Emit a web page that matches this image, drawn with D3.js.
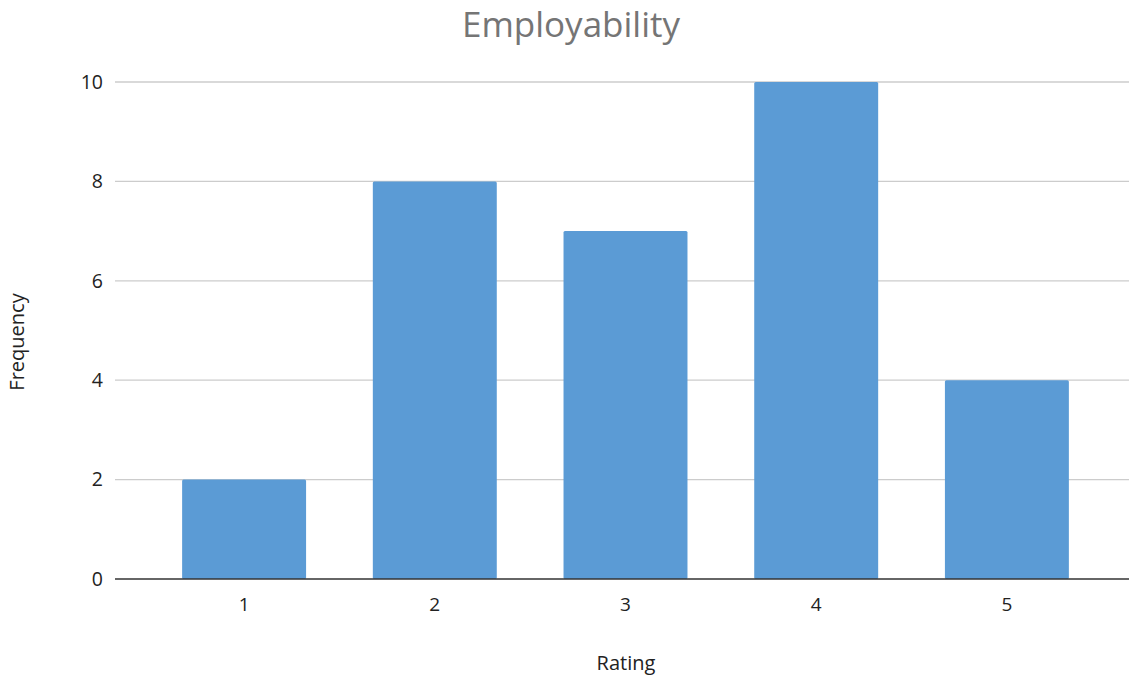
<!DOCTYPE html>
<html><head><meta charset="utf-8">
<script src="https://cdn.jsdelivr.net/npm/d3@7"></script>
<style>body{margin:0;background:#fff}svg{display:block}</style>
</head><body>
<svg id="c" width="1129" height="679"></svg>
<script>
const categories = ["1","2","3","4","5"];
const values = [2,8,7,10,4];
const yTicks = [0,2,4,6,8,10];

const svg = d3.select("#c");
const font = "'Open Sans', sans-serif";
const x = d3.scaleBand().domain(categories).range([115,1136]).paddingInner(0.35).paddingOuter(0.352);
const y = d3.scaleLinear().domain([0,10]).range([579,82]);

svg.append("g").selectAll("line").data(yTicks.filter(d=>d>0)).join("line")
  .attr("x1",115).attr("x2",1136).attr("y1",d=>y(d)).attr("y2",d=>y(d))
  .attr("stroke","#cccccc").attr("stroke-width",1.3);

svg.append("g").selectAll("rect").data(values).join("rect")
  .attr("x",(d,i)=>x(categories[i])).attr("width",x.bandwidth())
  .attr("y",d=>y(d)).attr("height",d=>y(0)-y(d))
  .attr("fill","#5b9bd5").attr("rx",1.5);

svg.append("line").attr("x1",115).attr("x2",1136).attr("y1",y(0)).attr("y2",y(0))
  .attr("stroke","#333").attr("stroke-width",1.5);

svg.append("g").selectAll("text").data(yTicks).join("text")
  .attr("x",103).attr("y",d=>y(d)).attr("dy","0.35em").attr("text-anchor","end")
  .attr("font-family",font).attr("font-size",19.5).attr("fill","#222").text(d=>d);

svg.append("g").selectAll("text").data(categories).join("text")
  .attr("x",d=>x(d)+x.bandwidth()/2).attr("y",611).attr("text-anchor","middle")
  .attr("font-family",font).attr("font-size",19).attr("fill","#222").text(d=>d);

svg.append("text").attr("x",571).attr("y",37).attr("text-anchor","middle")
  .attr("font-family",font).attr("font-size",35).attr("fill","#757575").text("Employability");

svg.append("text").attr("x",626).attr("y",670).attr("text-anchor","middle")
  .attr("font-family",font).attr("font-size",20).attr("fill","#222").text("Rating");

svg.append("text").attr("transform","translate(24,342) rotate(-90)").attr("text-anchor","middle")
  .attr("font-family",font).attr("font-size",20).attr("fill","#222").text("Frequency");
</script>
</body></html>
